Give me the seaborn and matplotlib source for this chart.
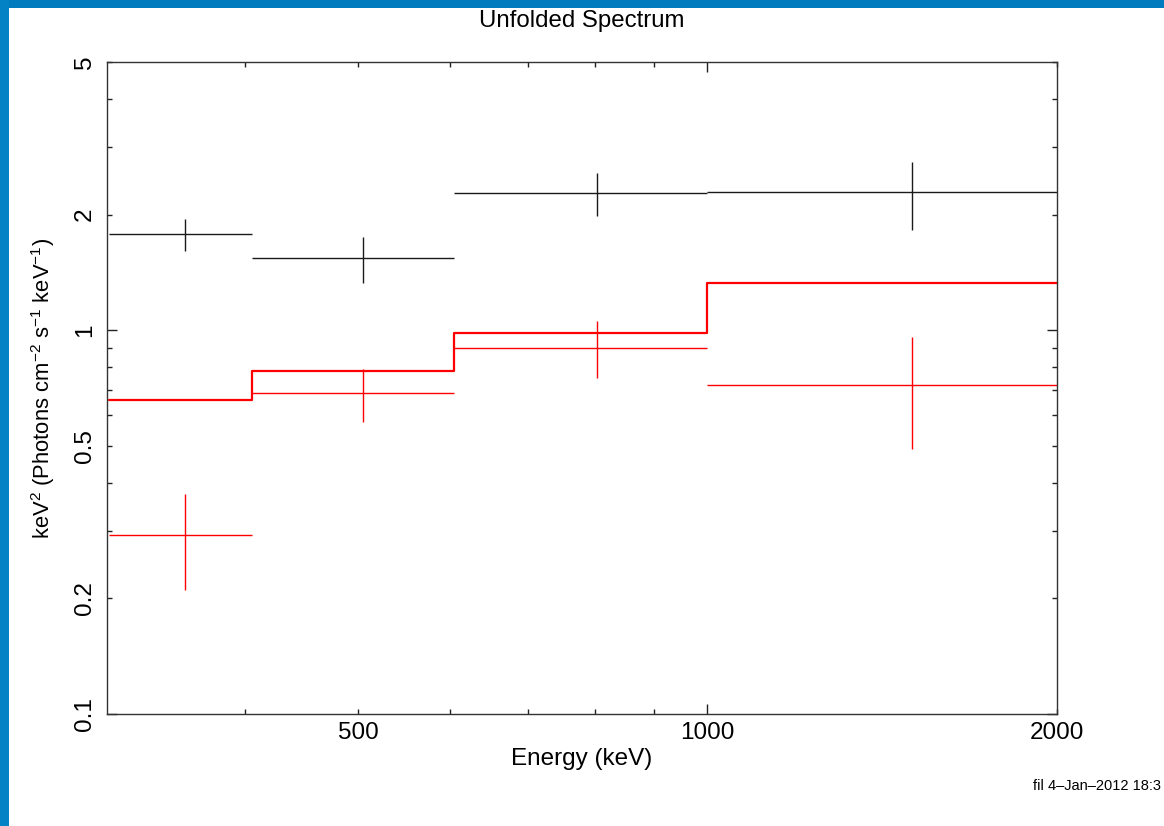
import numpy as np
import pandas as pd
import matplotlib
matplotlib.use("Agg")
import matplotlib.pyplot as plt
from matplotlib.patches import Rectangle
from matplotlib.ticker import FixedLocator, FuncFormatter
import seaborn as sns

# ---- data ----
bin_edges = [305, 405, 605, 1000, 2000]           # keV
black_flux = [1.78, 1.54, 2.28, 2.29]
black_err_lo = [0.17, 0.21, 0.30, 0.47]
black_err_hi = [0.17, 0.21, 0.29, 0.45]
red_flux = [0.293, 0.686, 0.90, 0.72]
red_err_lo = [0.082, 0.108, 0.148, 0.23]
red_err_hi = [0.082, 0.107, 0.154, 0.24]
red_model = [0.659, 0.784, 0.985, 1.331]

title = "Unfolded Spectrum"
xlabel = "Energy (keV)"
ylabel = r"keV$^{2}$ (Photons cm$^{-2}$ s$^{-1}$ keV$^{-1}$)"
footer = "fil 4\u2013Jan\u20132012 18:3"
x_label_ticks = [500, 1000, 2000]
y_label_ticks = [0.1, 0.2, 0.5, 1, 2, 5]

sns.set_theme(style="ticks")
plt.rcParams["font.family"] = ["Liberation Sans", "DejaVu Sans"]
plt.rcParams["mathtext.fontset"] = "custom"
plt.rcParams["mathtext.rm"] = "Liberation Sans"
plt.rcParams["mathtext.default"] = "regular"
plt.rcParams["text.color"] = "black"
plt.rcParams["axes.labelcolor"] = "black"

fig = plt.figure(figsize=(11.64, 8.26), dpi=100)
fig.patch.set_facecolor("white")
# blue frame (top and left bands)
fig.patches.append(Rectangle((0, 1 - 8 / 826), 1, 8 / 826, transform=fig.transFigure,
                             facecolor="#017bbd", edgecolor="none", zorder=0))
fig.patches.append(Rectangle((0, 0), 9 / 1164, 1, transform=fig.transFigure,
                             facecolor="#0383c6", edgecolor="none", zorder=0))

ax = fig.add_axes([107 / 1164, 1 - 714 / 826, 950 / 1164, 652 / 826])
ax.set_xscale("log")
ax.set_yscale("log")

edges = np.array(bin_edges, dtype=float)
centers = (edges[:-1] + edges[1:]) / 2
xerr = [centers - edges[:-1], edges[1:] - centers]

# model step line via seaborn
model_df = pd.DataFrame({"energy": edges, "flux": red_model + [red_model[-1]]})
sns.lineplot(data=model_df, x="energy", y="flux", ax=ax, color="#ff0000",
             linewidth=1.6, drawstyle="steps-post", estimator=None, sort=False)

ax.errorbar(centers, black_flux, xerr=xerr, yerr=[black_err_lo, black_err_hi],
            fmt="none", ecolor="#1a1a1a", elinewidth=1.0, capsize=0)
ax.errorbar(centers, red_flux, xerr=xerr, yerr=[red_err_lo, red_err_hi],
            fmt="none", ecolor="#ff0000", elinewidth=1.0, capsize=0)

ax.set_xlim(304, 2000)
ax.set_ylim(0.1, 5)

# x ticks
ax.xaxis.set_major_locator(FixedLocator([1000]))
ax.xaxis.set_minor_locator(FixedLocator([400, 500, 600, 700, 800, 900, 2000]))
fmt_x = FuncFormatter(lambda v, p: f"{v:g}" if any(abs(v - t) < 1e-6 for t in x_label_ticks) else "")
ax.xaxis.set_major_formatter(fmt_x)
ax.xaxis.set_minor_formatter(fmt_x)
# y ticks
ax.yaxis.set_major_locator(FixedLocator([0.1, 1]))
ax.yaxis.set_minor_locator(FixedLocator([0.2, 0.3, 0.4, 0.5, 0.6, 0.7, 0.8, 0.9, 2, 3, 4, 5]))
fmt_y = FuncFormatter(lambda v, p: f"{v:g}" if any(abs(v - t) < 1e-9 for t in y_label_ticks) else "")
ax.yaxis.set_major_formatter(fmt_y)
ax.yaxis.set_minor_formatter(fmt_y)

ax.tick_params(which="both", direction="in", top=True, right=True, color="#222222",
               labelsize=17.5, labelcolor="black", pad=5.5)
ax.tick_params(which="major", length=7, width=1.0)
ax.tick_params(which="minor", length=3.5, width=1.0)
ax.tick_params(axis="y", which="both", labelrotation=90, pad=8)
for lab in ax.get_yticklabels(minor=False) + ax.get_yticklabels(minor=True):
    lab.set_va("center")

for s in ax.spines.values():
    s.set_linewidth(1.0)
    s.set_color("#333333")

ax.set_xlabel(xlabel, fontsize=17.5, labelpad=3.5)
ax.set_ylabel(ylabel, fontsize=15.8, labelpad=12)
ax.set_title(title, fontsize=17.3, pad=25)
ax.grid(False)

fig.text(1033 / 1164, 1 - 790 / 826, footer, fontsize=10.5, ha="left", va="baseline")

fig.savefig("out.png", dpi=100)
